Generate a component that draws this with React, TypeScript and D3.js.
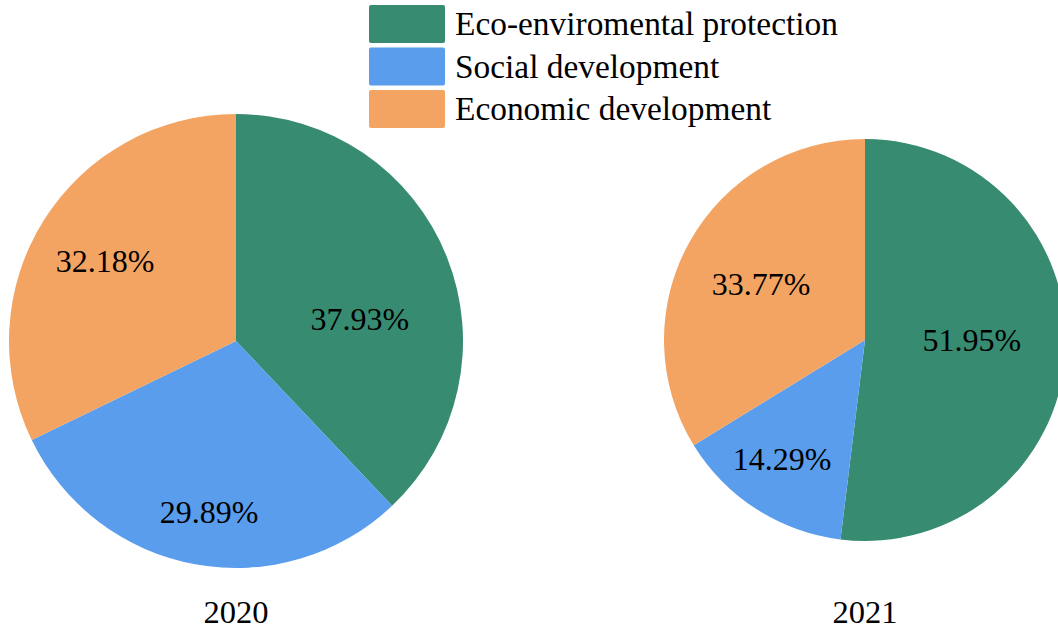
import React from "react";
import * as d3 from "d3";

const categories = ["Eco-enviromental protection", "Social development", "Economic development"];
const years = ["2020", "2021"];
const values2020 = [37.93, 29.89, 32.18];
const values2021 = [51.95, 14.29, 33.77];
const colors = ["#378B70", "#5A9DED", "#F4A462"];

// layout (not data): pie centers/radii and label offsets as fractions of radius
const pies = [
  { values: values2020, cx: 236, cy: 341, r: 227, label: years[0],
    labelOffsets: [[0.546, -0.097], [-0.119, 0.751], [-0.577, -0.352]] },
  { values: values2021, cx: 865, cy: 340, r: 201, label: years[1],
    labelOffsets: [[0.532, 0.0], [-0.413, 0.59], [-0.517, -0.279]] },
];

const FONT = "'Liberation Serif', 'Times New Roman', serif";

export default function App() {
  const pie = d3.pie<number>().sort(null).value((d) => d);
  return (
    <svg width={1058} height={632} style={{ position: "absolute", left: 0, top: 0 }}>
      <rect width={1058} height={632} fill="#fff" />
      {pies.map((p, pi) => {
        const arc = d3.arc<d3.PieArcDatum<number>>().innerRadius(0).outerRadius(p.r);
        const arcs = pie(p.values);
        return (
          <g key={pi}>
            <g transform={`translate(${p.cx},${p.cy})`}>
              {arcs.map((a, i) => (
                <path key={i} d={arc(a) || ""} fill={colors[i]} />
              ))}
              {arcs.map((a, i) => (
                <text
                  key={"t" + i}
                  x={p.labelOffsets[i][0] * p.r}
                  y={p.labelOffsets[i][1] * p.r}
                  dy="0.35em"
                  textAnchor="middle"
                  fontFamily={FONT}
                  fontSize={32}
                  fill="#000"
                >
                  {a.data.toFixed(2)}%
                </text>
              ))}
            </g>
            <text x={p.cx} y={623} textAnchor="middle" fontFamily={FONT} fontSize={32.5} fill="#000">
              {p.label}
            </text>
          </g>
        );
      })}
      <g>
        {categories.map((c, i) => (
          <g key={c} transform={`translate(369,${5 + i * 42.5})`}>
            <rect width={76} height={38} rx={2} fill={colors[i]} />
            <text x={86} y={30} fontFamily={FONT} fontSize={33.4} fill="#000">
              {c}
            </text>
          </g>
        ))}
      </g>
    </svg>
  );
}
